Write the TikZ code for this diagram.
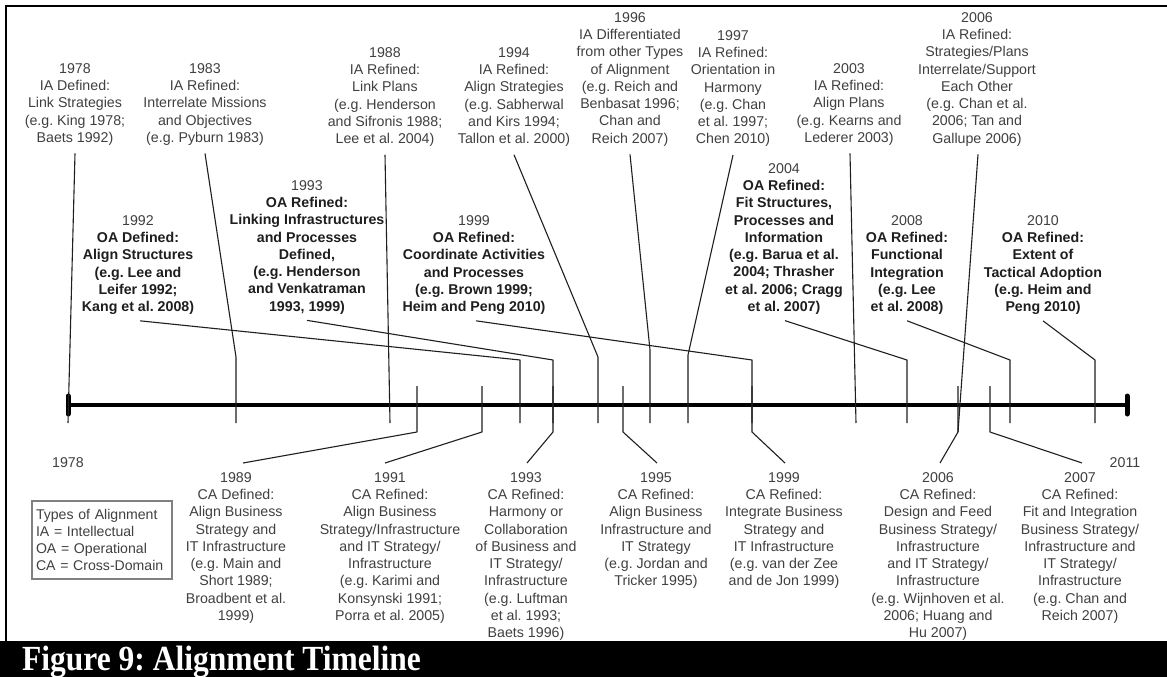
\documentclass[tikz,border=0pt]{standalone}
\usepackage{fontspec}
\setmainfont{Liberation Sans}
\newfontfamily\capfont{Liberation Serif}
\frenchspacing
\definecolor{txtgray}{HTML}{404040}
\definecolor{boldtxt}{HTML}{1E1E1E}
\definecolor{keygray}{HTML}{808080}

\begin{document}
\begin{tikzpicture}[x=1pt,y=-1pt,
  lbl/.style={align=center, inner sep=0pt, anchor=north, text=txtgray,
              font=\fontsize{14.2}{17.3}\selectfont},
  oalbl/.style={lbl, text=boldtxt, font=\fontsize{14.2}{17.3}\selectfont\bfseries},
  yr/.style={inner sep=0pt, text=txtgray, font=\fontsize{14.2}{17.3}\selectfont},
  conn/.style={line width=1.1pt, draw=black!88, line join=round},
  axis/.style={line width=4.5pt, draw=black},
  endcap/.style={line width=5pt, draw=black, line cap=round},
  keybox/.style={draw=keygray, line width=1.6pt, minimum width=140pt, minimum height=78pt,
                 text width=132pt, inner xsep=4pt, align=left, text=txtgray,
                 font=\fontsize{14.1}{17}\selectfont},
  capt/.style={anchor=base west, inner sep=0pt, text=white,
               font=\capfont\bfseries\fontsize{31.5}{36}\selectfont}
]
\useasboundingbox (0,0) rectangle (1167,677);
\fill[white] (0,0) rectangle (1167,677);

% frame and caption bar
\draw[line width=2pt] (6,641) -- (6,6) -- (1167,6);
\fill[black] (0,641) rectangle (1167,677);
\node[capt] (caption) at (22,670) {\scalebox{1}[1.12]{Figure 9: Alignment Timeline}};

% the time axis
\coordinate (axL) at (68,405);
\coordinate (axR) at (1127,405);
\draw[axis] (axL) -- (axR);
\draw[endcap] ([yshift=-9pt]axL) -- ([yshift=9pt]axL);
\draw[endcap] ([yshift=-9pt]axR) -- ([yshift=9pt]axR);

% end years
\node[yr] (y1978) at (68,463) {1978};
\node[yr] (y2011) at (1125,463) {2011};

% intellectual alignment (top row)
\node[lbl] (ia78) at (75,63) {1978\\IA Defined:\\Link Strategies\\(e.g. King 1978;\\Baets 1992)};
\node[lbl] (ia83) at (205,63) {1983\\IA Refined:\\Interrelate Missions\\and Objectives\\(e.g. Pyburn 1983)};
\node[lbl] (ia88) at (385,47) {1988\\IA Refined:\\Link Plans\\(e.g. Henderson\\and Sifronis 1988;\\Lee et al. 2004)};
\node[lbl] (ia94) at (514,47) {1994\\IA Refined:\\Align Strategies\\(e.g. Sabherwal\\and Kirs 1994;\\Tallon et al. 2000)};
\node[lbl] (ia96) at (630,12) {1996\\IA Differentiated\\from other Types\\of Alignment\\(e.g. Reich and\\Benbasat 1996;\\Chan and\\Reich 2007)};
\node[lbl] (ia97) at (733,30) {1997\\IA Refined:\\Orientation in\\Harmony\\(e.g. Chan\\et al. 1997;\\Chen 2010)};
\node[lbl] (ia03) at (849,63) {2003\\IA Refined:\\Align Plans\\(e.g. Kearns and\\Lederer 2003)};
\node[lbl] (ia06) at (977,12) {2006\\IA Refined:\\Strategies/Plans\\Interrelate/Support\\Each Other\\(e.g. Chan et al.\\2006; Tan and\\Gallupe 2006)};

% operational alignment (second row)
\node[oalbl] (oa92) at (138,215) {\textcolor{txtgray}{\mdseries 1992}\\OA Defined:\\Align Structures\\(e.g. Lee and\\Leifer 1992;\\Kang et al. 2008)};
\node[oalbl] (oa93) at (307,180) {\textcolor{txtgray}{\mdseries 1993}\\OA Refined:\\Linking Infrastructures\\and Processes\\Defined,\\(e.g. Henderson\\and Venkatraman\\1993, 1999)};
\node[oalbl] (oa99) at (474,215) {\textcolor{txtgray}{\mdseries 1999}\\OA Refined:\\Coordinate Activities\\and Processes\\(e.g. Brown 1999;\\Heim and Peng 2010)};
\node[oalbl] (oa04) at (784,163) {\textcolor{txtgray}{\mdseries 2004}\\OA Refined:\\Fit Structures,\\Processes and\\Information\\(e.g. Barua et al.\\2004; Thrasher\\et al. 2006; Cragg\\et al. 2007)};
\node[oalbl] (oa08) at (907,215) {\textcolor{txtgray}{\mdseries 2008}\\OA Refined:\\Functional\\Integration\\(e.g. Lee\\et al. 2008)};
\node[oalbl] (oa10) at (1043,215) {\textcolor{txtgray}{\mdseries 2010}\\OA Refined:\\Extent of\\Tactical Adoption\\(e.g. Heim and\\Peng 2010)};

% cross-domain alignment (bottom row)
\node[lbl] (ca89) at (236,472) {1989\\CA Defined:\\Align Business\\Strategy and\\IT Infrastructure\\(e.g. Main and\\Short 1989;\\Broadbent et al.\\1999)};
\node[lbl] (ca91) at (390,472) {1991\\CA Refined:\\Align Business\\Strategy/Infrastructure\\and IT Strategy/\\Infrastructure\\(e.g. Karimi and\\Konsynski 1991;\\Porra et al. 2005)};
\node[lbl] (ca93) at (526,472) {1993\\CA Refined:\\Harmony or\\Collaboration\\of Business and\\IT Strategy/\\Infrastructure\\(e.g. Luftman\\et al. 1993;\\Baets 1996)};
\node[lbl] (ca95) at (656,472) {1995\\CA Refined:\\Align Business\\Infrastructure and\\IT Strategy\\(e.g. Jordan and\\Tricker 1995)};
\node[lbl] (ca99) at (784,472) {1999\\CA Refined:\\Integrate Business\\Strategy and\\IT Infrastructure\\(e.g. van der Zee\\and de Jon 1999)};
\node[lbl] (ca06) at (938,472) {2006\\CA Refined:\\Design and Feed\\Business Strategy/\\Infrastructure\\and IT Strategy/\\Infrastructure\\(e.g. Wijnhoven et al.\\2006; Huang and\\Hu 2007)};
\node[lbl] (ca07) at (1080,472) {2007\\CA Refined:\\Fit and Integration\\Business Strategy/\\Infrastructure and\\IT Strategy/\\Infrastructure\\(e.g. Chan and\\Reich 2007)};

% legend
\node[keybox] (key) at (102,540) {Types of Alignment\\IA = Intellectual\\OA = Operational\\CA = Cross-Domain};

% IA connectors (label down through the axis)
\draw[conn] ([shift={(0,8)}]ia78.south) -- (68,423);
\draw[conn] ([shift={(0,8)}]ia83.south) -- (236,357) -- (236,423);
\draw[conn] ([shift={(0,8)}]ia88.south) -- (390,423);
\draw[conn] ([shift={(0,8)}]ia94.south) -- (598,357) -- (598,423);
\draw[conn] ([shift={(0,8)}]ia96.south) -- (650,350) -- (650,423);
\draw[conn] ([shift={(0,8)}]ia97.south) -- (688,355) -- (688,423);
\draw[conn] ([shift={(1,8)}]ia03.south) -- (856,423);
\draw[conn] ([shift={(1,8)}]ia06.south) -- (958,432);

% OA connectors
\draw[conn] ([shift={(2,6)}]oa92.south) -- (520,360) -- (520,423);
\draw[conn] ([shift={(0,6)}]oa93.south) -- (553,360) -- (553,423);
\draw[conn] ([shift={(2,6)}]oa99.south) -- (752,360) -- (752,423);
\draw[conn] ([shift={(1,6)}]oa04.south) -- (907,360) -- (907,423);
\draw[conn] ([shift={(0,6)}]oa08.south) -- (1010,360) -- (1010,423);
\draw[conn] ([shift={(0,6)}]oa10.south) -- (1095,360) -- (1095,423);

% CA connectors (label up to the axis)
\draw[conn] ([shift={(7,-9)}]ca89.north) -- (417,432) -- (417,386);
\draw[conn] ([shift={(-5,-9)}]ca91.north) -- (482,432) -- (482,386);
\draw[conn] ([shift={(1,-9)}]ca93.north) -- (553,432) -- (553,386);
\draw[conn] ([shift={(1,-9)}]ca95.north) -- (623,432) -- (623,386);
\draw[conn] ([shift={(1,-9)}]ca99.north) -- (752,432) -- (752,386);
\draw[conn] ([shift={(2,-9)}]ca06.north) -- (958,432) -- (958,386);
\draw[conn] ([shift={(2,-9)}]ca07.north) -- (990,432) -- (990,386);
\end{tikzpicture}
\end{document}
